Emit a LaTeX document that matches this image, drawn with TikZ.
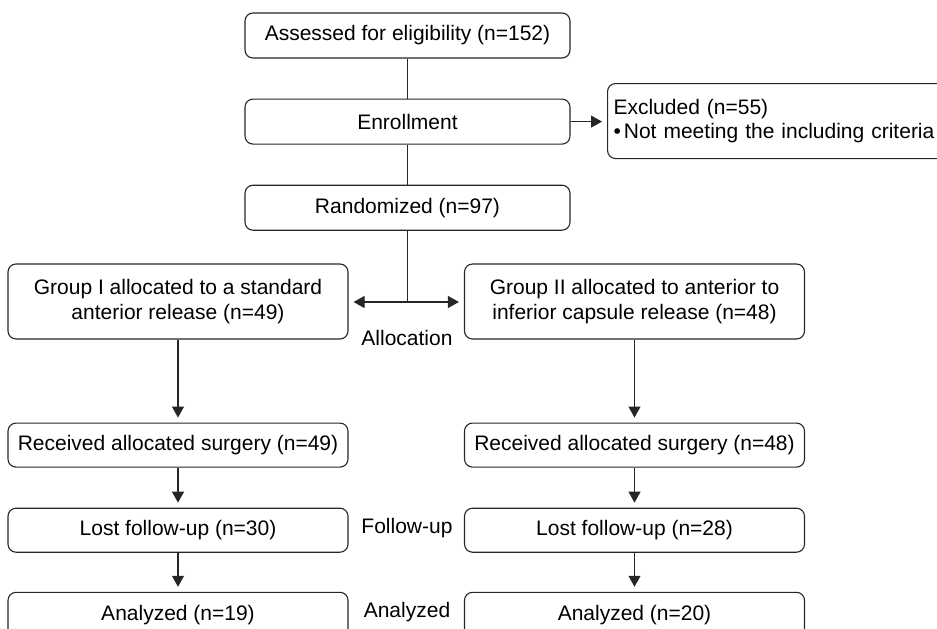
\documentclass[tikz,border=0pt]{standalone}
\usepackage{fontspec}
\setmainfont{Liberation Sans}
\usetikzlibrary{positioning}
\usetikzlibrary{arrows.meta}

\begin{document}
\begin{tikzpicture}[
  x=1pt, y=-1pt,
  font=\fontsize{21}{24.5}\selectfont,
  box/.style = {draw=black!85, rounded corners=8pt, line width=1.1pt,
                align=center, inner sep=0pt, minimum height=45pt},
  small/.style = {box, minimum width=325pt},
  group/.style = {box, minimum width=340pt, minimum height=75pt},
  line/.style = {draw=black!85, line width=1.1pt},
  arrow/.style = {line, ->, shorten >=5pt},
  >={Triangle[length=11pt,width=12pt]}
]

  \clip (0,0) rectangle (937,629);

  % screening column
  \node[small] (assess) at (407.5,35.5) {Assessed for eligibility (n=152)};
  \node[small] (enroll) [below=40pt of assess] {Enrollment};
  \node[small] (random) [below=40pt of enroll] {Randomized (n=97)};

  \node[box, anchor=north west, minimum width=360pt, minimum height=75pt,
        text width=348pt, inner xsep=6pt, align=left] (excl) at (607,83)
        {Excluded (n=55)\\\textbullet\hspace{3pt}Not meeting the including criteria};

  % the two arms
  \node[group] (grpA) at (178,301.5) {Group I allocated to a standard\\anterior release (n=49)};
  \node[group] (grpB) at (634.5,301.5) {Group II allocated to anterior to\\inferior capsule release (n=48)};

  \node[box, minimum width=340pt, minimum height=44pt] (recvA) [below=83pt of grpA] {Received allocated surgery (n=49)};
  \node[box, minimum width=340pt, minimum height=44pt] (recvB) [below=83pt of grpB] {Received allocated surgery (n=48)};
  \node[box, minimum width=340pt, minimum height=44pt] (lostA) [below=40pt of recvA] {Lost follow-up (n=30)};
  \node[box, minimum width=340pt, minimum height=44pt] (lostB) [below=40pt of recvB] {Lost follow-up (n=28)};
  \node[box, minimum width=340pt] (anaA) [below=39pt of lostA] {Analyzed (n=19)};
  \node[box, minimum width=340pt] (anaB) [below=39pt of lostB] {Analyzed (n=20)};

  % stage labels
  \coordinate (split) at (407.5,302);
  \node (alloc) at (407,338) {Allocation};
  \node (follow) at (407,528) {Follow-up};
  \node (analy) at (407,612) {Analyzed};

  \draw[line] (assess) -- (enroll);
  \draw[line] (enroll) -- (random);
  \draw[arrow] (enroll.east) -- (excl.west |- enroll.east);
  \draw[line] (random) -- (split);
  \draw[arrow] (split) -- (grpA.east |- split);
  \draw[arrow] (split) -- (grpB.west |- split);

  \draw[arrow] (grpA) -- (recvA);
  \draw[arrow] (grpB) -- (recvB);
  \draw[arrow] (recvA) -- (lostA);
  \draw[arrow] (recvB) -- (lostB);
  \draw[arrow] (lostA) -- (anaA);
  \draw[arrow] (lostB) -- (anaB);

\end{tikzpicture}
\end{document}
